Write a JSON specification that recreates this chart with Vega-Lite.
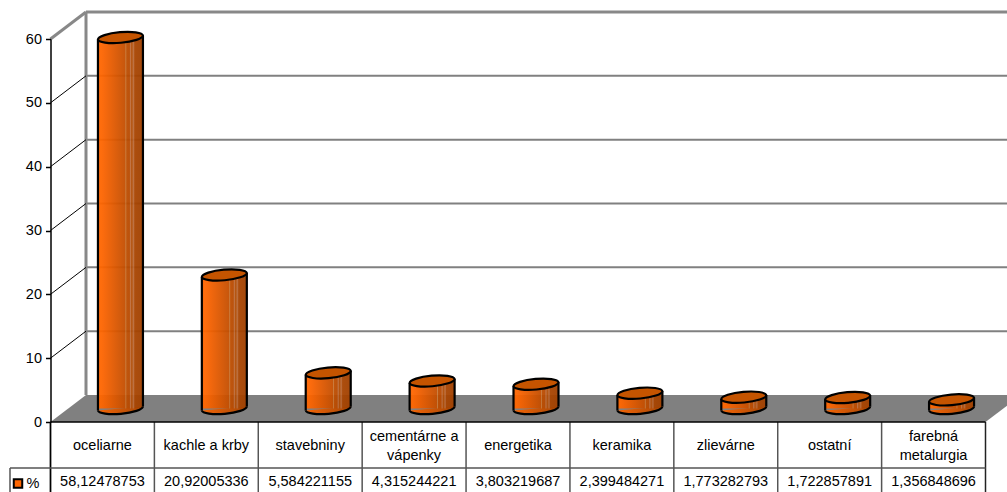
{
  "$schema": "https://vega.github.io/schema/vega-lite/v6.json",
  "width": 1007,
  "height": 492,
  "padding": 0,
  "autosize": {"type": "none"},
  "background": "white",
  "config": {
    "view": {"stroke": null},
    "text": {"font": "Liberation Sans", "fontSize": 14.5, "color": "black"},
    "axis": {"labelFont": "Liberation Sans"}
  },
  "datasets": {
    "sectors": [
      {"name": "oceliarne", "share": 58.12478753, "label": "58,12478753", "rows": 1},
      {"name": "kachle a krby", "share": 20.92005336, "label": "20,92005336", "rows": 1},
      {"name": "stavebniny", "share": 5.584221155, "label": "5,584221155", "rows": 1},
      {"name": "cementárne a\nvápenky", "share": 4.315244221, "label": "4,315244221", "rows": 2},
      {"name": "energetika", "share": 3.803219687, "label": "3,803219687", "rows": 1},
      {"name": "keramika", "share": 2.399484271, "label": "2,399484271", "rows": 1},
      {"name": "zlievárne", "share": 1.773282793, "label": "1,773282793", "rows": 1},
      {"name": "ostatní", "share": 1.722857891, "label": "1,722857891", "rows": 1},
      {"name": "farebná\nmetalurgia", "share": 1.356848696, "label": "1,356848696", "rows": 2}
    ],
    "gridlines": [{"level": 10}, {"level": 20}, {"level": 30}, {"level": 40}, {"level": 50}]
  },
  "data": {"name": "sectors"},
  "layer": [
    {
      "description": "back wall gridlines; also carries the shared scales and the value axis",
      "data": {"name": "gridlines"},
      "mark": {"type": "rule", "color": "#808080", "strokeWidth": 2, "clip": true, "xOffset": 35.5, "x2Offset": 35.5, "yOffset": -27},
      "encoding": {
        "x": {"datum": "oceliarne", "type": "nominal", "bandPosition": 0, "axis": null,
          "scale": {"type": "band", "domain": ["oceliarne", "kachle a krby", "stavebniny", "cementárne a\nvápenky", "energetika", "keramika", "zlievárne", "ostatní", "farebná\nmetalurgia"], "range": [50.5, 985.5], "paddingInner": 0, "paddingOuter": 0}},
        "x2": {"datum": "farebná\nmetalurgia", "bandPosition": 1},
        "y": {"field": "level", "type": "quantitative", "scale": {"domain": [0, 60], "range": [422, 39], "nice": false, "zero": false},
          "axis": {"orient": "left", "offset": -50.5, "values": [0, 10, 20, 30, 40, 50, 60], "title": null, "grid": false, "domainColor": "black", "domainWidth": 1.5, "tickColor": "black", "tickSize": 5, "tickWidth": 1.5, "labelColor": "black", "labelFontSize": 14.5, "labelPadding": 4, "zindex": 1}}
      }
    },
    {
      "description": "top edge of the back wall",
      "data": {"values": [{"level": 60}]},
      "mark": {"type": "rule", "color": "#888888", "strokeWidth": 3, "clip": true, "xOffset": 35.5, "x2Offset": 35.5, "yOffset": -27},
      "encoding": {
        "x": {"datum": "oceliarne", "type": "nominal", "bandPosition": 0},
        "x2": {"datum": "farebná\nmetalurgia", "bandPosition": 1},
        "y": {"field": "level", "type": "quantitative"}
      }
    },
    {
      "description": "left edge of the back wall",
      "data": {"values": [{"level": 60}]},
      "mark": {"type": "rule", "color": "#888888", "strokeWidth": 3, "xOffset": 35.5, "yOffset": -27, "y2Offset": -27},
      "encoding": {
        "x": {"datum": "oceliarne", "type": "nominal", "bandPosition": 0},
        "y": {"field": "level", "type": "quantitative"},
        "y2": {"datum": 0}
      }
    },
    {
      "description": "side wall lines joining the axis to the back wall",
      "data": {"name": "gridlines"},
      "mark": {"type": "rule", "color": "black", "strokeWidth": 1, "x2Offset": 35.5, "y2Offset": -27},
      "encoding": {
        "x": {"datum": "oceliarne", "type": "nominal", "bandPosition": 0},
        "x2": {"datum": "oceliarne", "bandPosition": 0},
        "y": {"field": "level", "type": "quantitative"},
        "y2": {"field": "level"}
      }
    },
    {
      "description": "top edge of the side wall",
      "data": {"values": [{"level": 60}]},
      "mark": {"type": "rule", "color": "#888888", "strokeWidth": 3, "x2Offset": 35.5, "y2Offset": -27},
      "encoding": {
        "x": {"datum": "oceliarne", "type": "nominal", "bandPosition": 0},
        "x2": {"datum": "oceliarne", "bandPosition": 0},
        "y": {"field": "level", "type": "quantitative"},
        "y2": {"field": "level"}
      }
    },
    {
      "description": "grey floor",
      "data": {"values": [{"level": 0}]},
      "mark": {"type": "point", "filled": true, "opacity": 1, "fill": "#808080", "stroke": null, "size": 4, "shape": "M0 0 L35.5 -27 L970.5 -27 L935 0 Z"},
      "encoding": {
        "x": {"datum": "oceliarne", "type": "nominal", "bandPosition": 0},
        "y": {"field": "level", "type": "quantitative"}
      }
    },
    {
      "description": "lower half of each cylinder base",
      "mark": {"type": "point", "filled": true, "opacity": 0.95, "stroke": null, "size": 4, "xOffset": 18, "yOffset": -13.5,
        "shape": "M22.5 -2 A22.6 5.5 -5.08 0 1 -22.5 2 Z",
        "fill": {"gradient": "linear", "x1": 0, "x2": 1, "y1": 0, "y2": 0, "stops": [{"offset": 0, "color": "#fa6400"}, {"offset": 0.6, "color": "#c85000"}, {"offset": 1, "color": "#a84400"}]}},
      "encoding": {
        "x": {"field": "name", "type": "nominal"},
        "y": {"datum": 0, "type": "quantitative"}
      }
    },
    {
      "description": "cylinder bodies",
      "mark": {"type": "bar", "width": 45, "opacity": 0.95, "xOffset": 18, "yOffset": -13.5, "y2Offset": -13.5,
        "fill": {"gradient": "linear", "x1": 0, "x2": 1, "y1": 0, "y2": 0, "stops": [
          {"offset": 0, "color": "#f05e00"}, {"offset": 0.06, "color": "#ff6600"}, {"offset": 0.14, "color": "#f86200"},
          {"offset": 0.6, "color": "#c44e00"}, {"offset": 0.62, "color": "#c87a3a"}, {"offset": 0.64, "color": "#bc4c00"},
          {"offset": 0.7, "color": "#b84a00"}, {"offset": 0.72, "color": "#c07244"}, {"offset": 0.75, "color": "#b04a00"},
          {"offset": 0.79, "color": "#ba6a38"}, {"offset": 0.82, "color": "#a84400"}, {"offset": 1, "color": "#a04000"}]}},
      "encoding": {
        "x": {"field": "name", "type": "nominal"},
        "y": {"field": "share", "type": "quantitative", "stack": null},
        "y2": {"datum": 0}
      }
    },
    {
      "description": "front curve of each cylinder base",
      "mark": {"type": "point", "filled": false, "fill": null, "opacity": 1, "stroke": "black", "strokeWidth": 2.2, "size": 4, "xOffset": 18, "yOffset": -13.5, "shape": "M22.5 -2 A22.6 5.5 -5.08 0 1 -22.5 2"},
      "encoding": {
        "x": {"field": "name", "type": "nominal"},
        "y": {"datum": 0, "type": "quantitative"}
      }
    },
    {
      "description": "left silhouette of each cylinder",
      "mark": {"type": "rule", "color": "black", "strokeWidth": 2.2, "xOffset": -4.5, "yOffset": -11.5, "y2Offset": -11.5},
      "encoding": {
        "x": {"field": "name", "type": "nominal"},
        "y": {"field": "share", "type": "quantitative"},
        "y2": {"datum": 0}
      }
    },
    {
      "description": "right silhouette of each cylinder",
      "mark": {"type": "rule", "color": "black", "strokeWidth": 2.2, "xOffset": 40.5, "yOffset": -15.5, "y2Offset": -15.5},
      "encoding": {
        "x": {"field": "name", "type": "nominal"},
        "y": {"field": "share", "type": "quantitative"},
        "y2": {"datum": 0}
      }
    },
    {
      "description": "cylinder tops",
      "mark": {"type": "point", "filled": true, "opacity": 1, "fill": "#c55400", "stroke": "black", "strokeWidth": 2.2, "size": 4, "xOffset": 18, "yOffset": -13.5, "shape": "M-22.5 2 A22.6 5.5 -5.08 0 1 22.5 -2 A22.6 5.5 -5.08 0 1 -22.5 2 Z"},
      "encoding": {
        "x": {"field": "name", "type": "nominal"},
        "y": {"field": "share", "type": "quantitative"}
      }
    },
    {
      "description": "table column separators",
      "mark": {"type": "rule", "color": "#555555", "strokeWidth": 1.5, "y2Offset": 70},
      "encoding": {
        "x": {"field": "name", "type": "nominal", "bandPosition": 0},
        "y": {"datum": 0, "type": "quantitative"},
        "y2": {"datum": 0}
      }
    },
    {
      "description": "right border of the table",
      "data": {"values": [{"level": 0}]},
      "mark": {"type": "rule", "color": "#222222", "strokeWidth": 1.5, "y2Offset": 70},
      "encoding": {
        "x": {"datum": "farebná\nmetalurgia", "type": "nominal", "bandPosition": 1},
        "y": {"field": "level", "type": "quantitative"},
        "y2": {"field": "level"}
      }
    },
    {
      "description": "left border of the table",
      "data": {"values": [{"level": 0}]},
      "mark": {"type": "rule", "color": "black", "strokeWidth": 1.5, "y2Offset": 70},
      "encoding": {
        "x": {"datum": "oceliarne", "type": "nominal", "bandPosition": 0},
        "y": {"field": "level", "type": "quantitative"},
        "y2": {"field": "level"}
      }
    },
    {
      "description": "legend cell border",
      "data": {"values": [{"level": 0}]},
      "mark": {"type": "rule", "color": "#555555", "strokeWidth": 1.5, "xOffset": -40.5, "yOffset": 46, "y2Offset": 70},
      "encoding": {
        "x": {"datum": "oceliarne", "type": "nominal", "bandPosition": 0},
        "y": {"field": "level", "type": "quantitative"},
        "y2": {"field": "level"}
      }
    },
    {
      "description": "rule between the two table rows",
      "data": {"values": [{"level": 0}]},
      "mark": {"type": "rule", "color": "#555555", "strokeWidth": 1.5, "xOffset": -40.5, "yOffset": 46},
      "encoding": {
        "x": {"datum": "oceliarne", "type": "nominal", "bandPosition": 0},
        "x2": {"datum": "farebná\nmetalurgia", "bandPosition": 1},
        "y": {"field": "level", "type": "quantitative"}
      }
    },
    {
      "description": "base line of the plot",
      "data": {"values": [{"level": 0}]},
      "mark": {"type": "rule", "color": "black", "strokeWidth": 1.5},
      "encoding": {
        "x": {"datum": "oceliarne", "type": "nominal", "bandPosition": 0},
        "x2": {"datum": "farebná\nmetalurgia", "bandPosition": 1},
        "y": {"field": "level", "type": "quantitative"}
      }
    },
    {
      "description": "single-line category names in the table header",
      "transform": [{"filter": "datum.rows == 1"}],
      "mark": {"type": "text", "align": "center", "baseline": "middle", "yOffset": 23.5},
      "encoding": {
        "x": {"field": "name", "type": "nominal"},
        "y": {"datum": 0, "type": "quantitative"},
        "text": {"field": "name"}
      }
    },
    {
      "description": "two-line category names in the table header",
      "transform": [{"filter": "datum.rows == 2"}],
      "mark": {"type": "text", "align": "center", "baseline": "middle", "lineBreak": "\n", "lineHeight": 19, "yOffset": 14.5},
      "encoding": {
        "x": {"field": "name", "type": "nominal"},
        "y": {"datum": 0, "type": "quantitative"},
        "text": {"field": "name"}
      }
    },
    {
      "description": "share values in the table body",
      "mark": {"type": "text", "align": "center", "baseline": "middle", "yOffset": 60},
      "encoding": {
        "x": {"field": "name", "type": "nominal"},
        "y": {"datum": 0, "type": "quantitative"},
        "text": {"field": "label"}
      }
    },
    {
      "description": "legend swatch",
      "data": {"values": [{"series": "%", "level": 0}]},
      "mark": {"type": "point", "shape": "square", "filled": true, "opacity": 1, "fill": "#ff6600", "stroke": "black", "strokeWidth": 2, "size": 72, "xOffset": -32.5, "yOffset": 61.5},
      "encoding": {
        "x": {"datum": "oceliarne", "type": "nominal", "bandPosition": 0},
        "y": {"field": "level", "type": "quantitative"}
      }
    },
    {
      "description": "legend label",
      "data": {"values": [{"series": "%", "level": 0}]},
      "mark": {"type": "text", "align": "left", "baseline": "middle", "xOffset": -24, "yOffset": 62},
      "encoding": {
        "x": {"datum": "oceliarne", "type": "nominal", "bandPosition": 0},
        "y": {"field": "level", "type": "quantitative"},
        "text": {"field": "series"}
      }
    }
  ]
}
